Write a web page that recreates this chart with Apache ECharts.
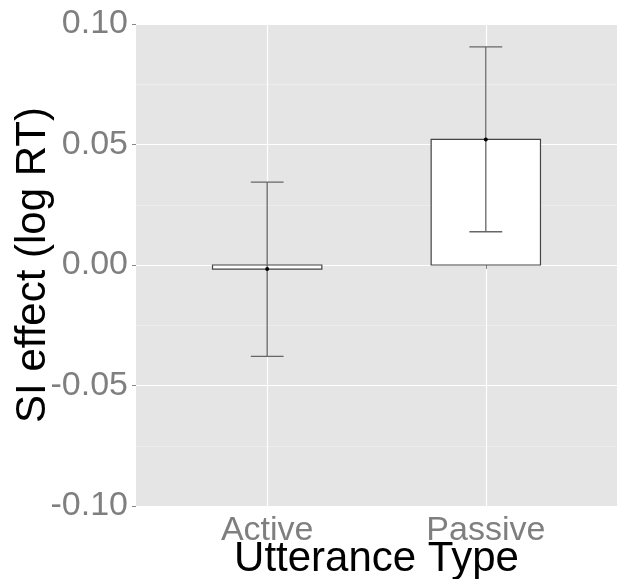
<!DOCTYPE html>
<html>
<head>
<meta charset="utf-8">
<script src="https://cdn.jsdelivr.net/npm/echarts@6/dist/echarts.min.js"></script>
<style>
  html, body { margin: 0; padding: 0; background: #fff; }
  #main { width: 617px; height: 579px; }
</style>
</head>
<body>
<div id="main"></div>
<script>
// 数据
var categories = ['Active', 'Passive'];
var means = [-0.0017, 0.0521];
var upper = [0.0344, 0.0905];
var lower = [-0.0379, 0.0138];
var yTicks = [-0.1, -0.05, 0, 0.05, 0.1];

var font = 'Liberation Sans, Arial, sans-serif';

// 每个类别一行: [x, mean, lower, upper]
var rows = categories.map(function (c, i) {
  return [i + 1, means[i], lower[i], upper[i]];
});

function renderBar(params, api) {
  var x = api.value(0);
  var p0 = api.coord([x - 0.25, 0]);
  var p1 = api.coord([x + 0.25, api.value(1)]);
  return {
    type: 'rect',
    shape: {
      x: p0[0], y: Math.min(p0[1], p1[1]),
      width: p1[0] - p0[0], height: Math.abs(p1[1] - p0[1])
    },
    style: { fill: '#fff', stroke: '#444', lineWidth: 1.2 }
  };
}

function renderErr(params, api) {
  var x = api.value(0);
  var lo = api.coord([x, api.value(2)]);
  var hi = api.coord([x, api.value(3)]);
  var capL = api.coord([x - 0.075, 0])[0];
  var capR = api.coord([x + 0.075, 0])[0];
  var mid = api.coord([x, api.value(1)]);
  var st = { stroke: '#666', lineWidth: 1.3 };
  return {
    type: 'group',
    children: [
      { type: 'line', shape: { x1: lo[0], y1: lo[1], x2: hi[0], y2: hi[1] }, style: st },
      { type: 'line', shape: { x1: capL, y1: hi[1], x2: capR, y2: hi[1] }, style: st },
      { type: 'line', shape: { x1: capL, y1: lo[1], x2: capR, y2: lo[1] }, style: st },
      { type: 'circle', shape: { cx: mid[0], cy: mid[1], r: 2 }, style: { fill: '#000' } }
    ]
  };
}

var myChart = echarts.init(document.getElementById('main'));
myChart.setOption({
  animation: false,
  backgroundColor: '#fff',
  grid: {
    left: 136, right: 0, top: 24, bottom: 73,
    outerBoundsMode: 'none',
    containLabel: false,
    show: true, backgroundColor: '#E5E5E5', borderWidth: 0
  },
  xAxis: {
    type: 'value',
    min: 0.4,
    max: 2.6,
    name: 'Utterance Type',
    nameLocation: 'middle',
    nameMoveOverlap: false,
    nameGap: 32,
    nameTextStyle: { color: '#000', fontSize: 42, fontFamily: font },
    axisLine: { show: false },
    axisTick: { show: true, customValues: [1, 2], length: 4, lineStyle: { color: '#888' } },
    axisLabel: {
      customValues: [1, 2],
      margin: 8,
      color: '#7F7F7F',
      fontSize: 34,
      fontFamily: font,
      formatter: function (v) { return categories[Math.round(v) - 1] || ''; }
    },
    splitLine: { show: true, lineStyle: { color: '#fff', width: 1.2 } }
  },
  yAxis: {
    type: 'value',
    min: -0.1,
    max: 0.1,
    interval: 0.05,
    name: 'SI effect (log RT)',
    nameLocation: 'middle',
    nameMoveOverlap: false,
    nameGap: 82,
    nameTextStyle: { color: '#000', fontSize: 42, fontFamily: font },
    axisLine: { show: false },
    axisTick: { show: true, length: 4, lineStyle: { color: '#888' } },
    axisLabel: {
      margin: 8,
      color: '#7F7F7F',
      fontSize: 34,
      fontFamily: font,
      formatter: function (v) { return v.toFixed(2); }
    },
    splitLine: { show: true, lineStyle: { color: '#fff', width: 1.2 } },
    minorTick: { show: false, splitNumber: 2 },
    minorSplitLine: { show: true, lineStyle: { color: '#F2F2F2', width: 0.6 } }
  },
  series: [
    { type: 'custom', renderItem: renderBar, data: rows, encode: { x: 0, y: 1 } },
    { type: 'custom', renderItem: renderErr, data: rows, encode: { x: 0, y: [2, 3] } }
  ]
});
</script>
</body>
</html>
